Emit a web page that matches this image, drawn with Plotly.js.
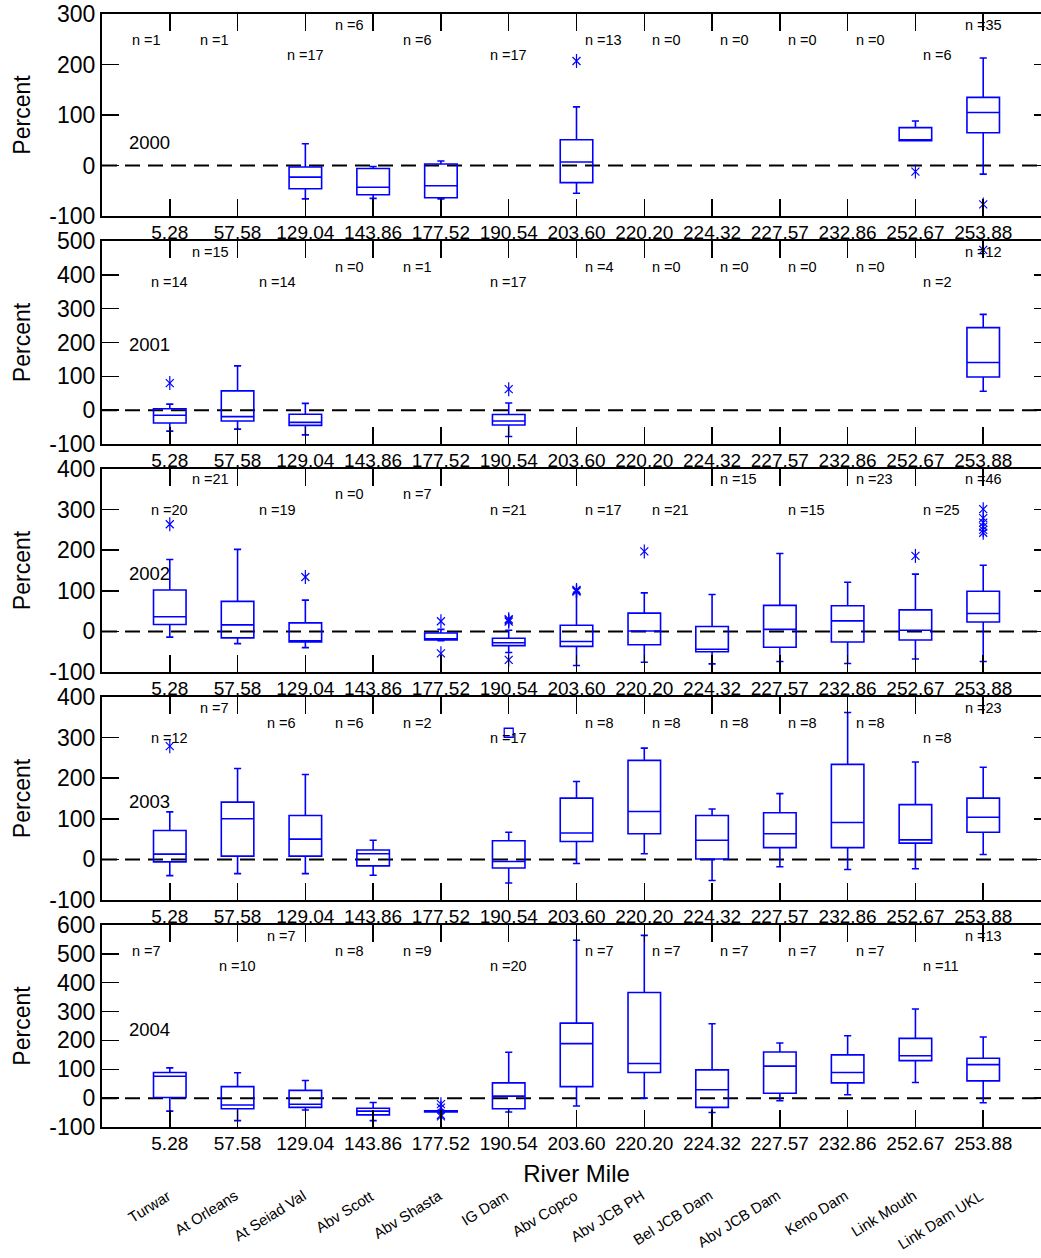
<!DOCTYPE html>
<html>
<head>
<meta charset="utf-8">
<script src="https://cdn.plot.ly/plotly-3.0.1.min.js"></script>
<style>
  html, body { margin: 0; padding: 0; overflow: hidden; background: #ffffff; }
  #chart { width: 1060px; height: 1258px; }
</style>
</head>
<body>
<div id="chart"></div>
<script>
// River-mile stations (category axis) and their site names
const riverMiles = ['5.28', '57.58', '129.04', '143.86', '177.52', '190.54', '203.60',
                    '220.20', '224.32', '227.57', '232.86', '252.67', '253.88'];
const siteNames = ['Turwar', 'At Orleans', 'At Seiad Val', 'Abv Scott', 'Abv Shasta', 'IG Dam',
                   'Abv Copco', 'Abv JCB PH', 'Bel JCB Dam', 'Abv JCB Dam', 'Keno Dam',
                   'Link Mouth', 'Link Dam UKL'];

// ---- 2000 ----
const n2000    = [1, 1, 17, 6, 6, 17, 13, 0, 0, 0, 0, 6, 35];
const box2000  = ['129.04', '143.86', '177.52', '203.60', '252.67', '253.88'];
const low2000  = [-66, -65, -66, -55, 49, -17];
const q1_2000  = [-46, -58, -64, -34, 49, 65];
const med2000  = [-23, -43, -40, 7, 50, 105];
const q3_2000  = [-3, -6, 3, 51, 75, 135];
const up2000   = [43, -2, 9, 116, 88, 213];
const outX2000 = ['203.60', '252.67', '253.88'];
const outY2000 = [207, -12, -77];

// ---- 2001 ----
const n2001    = [14, 15, 14, 0, 1, 17, 4, 0, 0, 0, 0, 2, 12];
const box2001  = ['5.28', '57.58', '129.04', '190.54', '253.88'];
const low2001  = [-62, -56, -73, -78, 56];
const q1_2001  = [-38, -32, -45, -44, 98];
const med2001  = [-15, -19, -36, -32, 141];
const q3_2001  = [4, 57, -12, -13, 244];
const up2001   = [18, 131, 20, 21, 283];
const outX2001 = ['5.28', '190.54', '253.88'];
const outY2001 = [80, 62, 474];

// ---- 2002 ----
const n2002    = [20, 21, 19, 0, 7, 21, 17, 21, 15, 15, 23, 25, 46];
const box2002  = ['5.28', '57.58', '129.04', '177.52', '190.54', '203.60', '220.20',
                  '224.32', '227.57', '232.86', '252.67', '253.88'];
const low2002  = [-14, -30, -40, -23, -52, -84, -76, -80, -74, -79, -68, -74];
const q1_2002  = [17, -16, -26, -21, -35, -37, -33, -50, -39, -26, -21, 23];
const med2002  = [36, 16, -23, -18, -28, -25, 1, -44, 5, 26, 3, 44];
const q3_2002  = [102, 74, 21, -4, -17, 15, 45, 12, 64, 63, 53, 99];
const up2002   = [177, 202, 77, 5, 3, 96, 95, 91, 192, 121, 141, 163];
const outX2002 = ['5.28', '129.04', '177.52', '177.52', '190.54', '190.54', '190.54', '190.54',
                  '203.60', '203.60', '203.60', '220.20', '252.67',
                  '253.88', '253.88', '253.88', '253.88', '253.88', '253.88'];
const outY2002 = [264, 134, 25, -54, 30, 27, 24, -70,
                  102, 100, 98, 197, 186,
                  301, 279, 268, 258, 250, 243];

// ---- 2003 ----
const n2003    = [12, 7, 6, 6, 2, 17, 8, 8, 8, 8, 8, 8, 23];
const box2003  = ['5.28', '57.58', '129.04', '143.86', '190.54', '203.60', '220.20',
                  '224.32', '227.57', '232.86', '252.67', '253.88'];
const low2003  = [-40, -35, -35, -39, -58, -10, 14, -52, -18, -25, -23, 12];
const q1_2003  = [-6, 8, 8, -16, -21, 44, 63, 1, 29, 29, 40, 67];
const med2003  = [13, 100, 50, 14, -5, 65, 118, 47, 63, 91, 48, 104];
const q3_2003  = [71, 141, 108, 23, 46, 151, 244, 108, 115, 234, 135, 151];
const up2003   = [117, 224, 209, 47, 67, 192, 274, 124, 162, 362, 240, 227];
const outX2003 = ['5.28'];
const outY2003 = [279];
const farX2003 = ['190.54'];
const farY2003 = [312];

// ---- 2004 ----
const n2004    = [7, 10, 7, 8, 9, 20, 7, 7, 7, 7, 7, 11, 13];
const box2004  = ['5.28', '57.58', '129.04', '143.86', '177.52', '190.54', '203.60',
                  '220.20', '224.32', '227.57', '232.86', '252.67', '253.88'];
const low2004  = [-45, -78, -41, -78, -50, -48, -27, 0, -50, -9, 12, 54, -16];
const q1_2004  = [2, -37, -32, -58, -48, -37, 40, 89, -32, 17, 53, 130, 60];
const med2004  = [76, -24, -21, -45, -46, 7, 189, 120, 29, 111, 89, 147, 116];
const q3_2004  = [89, 40, 27, -35, -44, 53, 260, 366, 98, 160, 150, 207, 138];
const up2004   = [105, 88, 61, -15, -42, 159, 547, 564, 258, 191, 216, 309, 212];
const outX2004 = ['177.52', '177.52', '177.52', '177.52'];
const outY2004 = [-21, -33, -58, -63];

// y-axis tick values per year
const yTicks2000 = [-100, 0, 100, 200, 300];
const yTicks2001 = [-100, 0, 100, 200, 300, 400, 500];
const yTicks2002 = [-100, 0, 100, 200, 300, 400];
const yTicks2003 = [-100, 0, 100, 200, 300, 400];
const yTicks2004 = [-100, 0, 100, 200, 300, 400, 500, 600];

const years = ['2000', '2001', '2002', '2003', '2004'];

// ---- panel assembly ----
const panels = [
  { year: years[0], n: n2000, x: box2000, low: low2000, q1: q1_2000, med: med2000, q3: q3_2000, up: up2000,
    outX: outX2000, outY: outY2000, farX: [], farY: [], ticks: yTicks2000 },
  { year: years[1], n: n2001, x: box2001, low: low2001, q1: q1_2001, med: med2001, q3: q3_2001, up: up2001,
    outX: outX2001, outY: outY2001, farX: [], farY: [], ticks: yTicks2001 },
  { year: years[2], n: n2002, x: box2002, low: low2002, q1: q1_2002, med: med2002, q3: q3_2002, up: up2002,
    outX: outX2002, outY: outY2002, farX: [], farY: [], ticks: yTicks2002 },
  { year: years[3], n: n2003, x: box2003, low: low2003, q1: q1_2003, med: med2003, q3: q3_2003, up: up2003,
    outX: outX2003, outY: outY2003, farX: farX2003, farY: farY2003, ticks: yTicks2003 },
  { year: years[4], n: n2004, x: box2004, low: low2004, q1: q1_2004, med: med2004, q3: q3_2004, up: up2004,
    outX: outX2004, outY: outY2004, farX: [], farY: [], ticks: yTicks2004 }
];

// ---- placement (pixels) ----
const FIG_W = 1060, FIG_H = 1258;
const M_L = 102.2, M_R = 8.6;
const PLOT_W = FIG_W - M_L - M_R;
const panelPx = [[14, 216], [241, 444], [469, 672], [697, 900], [925, 1127]];
const yearLabelPx = [143, 345, 573, 801, 1029];
// staggered rows for the "n =" labels (px below panel top) and their alignment
const nRowPx = [10.5, 25.5, 41];
const nRows = [
  [1, 1, 2, 0, 1, 2, 1, 1, 1, 1, 1, 2, 0],
  [2, 0, 2, 1, 1, 2, 1, 1, 1, 1, 1, 2, 0],
  [2, 0, 2, 1, 1, 2, 2, 2, 0, 2, 0, 2, 0],
  [2, 0, 1, 1, 1, 2, 1, 1, 1, 1, 1, 2, 0],
  [1, 2, 0, 1, 1, 2, 1, 1, 1, 1, 1, 2, 0]
];
const nAlign = ['RRCRRCLLLLLLC', 'CRRRRCLLLLLLC', 'CRRRRCLLLLLLC', 'CRRRRCLLLLLLC', 'RCRRRCLLLLLLC'];

const FONT = 'Liberation Sans, Arial, Helvetica, sans-serif';
const BLUE = '#0000ff';
const INK = '#000000';

const py = (px) => 1 - px / FIG_H;

const traces = [];
const layout = {
  width: FIG_W,
  height: FIG_H,
  margin: { l: M_L, r: M_R, t: 0, b: 0, autoexpand: false },
  paper_bgcolor: '#ffffff',
  plot_bgcolor: 'rgba(0,0,0,0)',
  showlegend: false,
  font: { family: FONT, color: INK },
  shapes: [],
  annotations: []
};

// outlier star: an "x" crossed by a vertical stroke
function starTraces(xs, ys, xa, ya) {
  return [
    { type: 'scatter', mode: 'markers', xaxis: xa, yaxis: ya, x: xs, y: ys, hoverinfo: 'skip',
      marker: { symbol: 'x-thin-open', size: 8, color: BLUE, line: { color: BLUE, width: 1.2 } } },
    { type: 'scatter', mode: 'markers', xaxis: xa, yaxis: ya, x: xs, y: ys, hoverinfo: 'skip',
      marker: { symbol: 'line-ns-open', size: 10, color: BLUE, line: { color: BLUE, width: 1.2 } } }
  ];
}

panels.forEach((p, k) => {
  const sfx = k === 0 ? '' : String(k + 1);
  const xa = 'x' + sfx, ya = 'y' + sfx;
  const [top, bot] = panelPx[k];
  const hPx = bot - top;

  traces.push({
    type: 'box',
    xaxis: xa, yaxis: ya,
    x: p.x,
    q1: p.q1, median: p.med, q3: p.q3,
    lowerfence: p.low, upperfence: p.up,
    boxpoints: false,
    width: 0.48,
    whiskerwidth: 0.22,
    line: { color: BLUE, width: 1.6 },
    fillcolor: 'rgba(0,0,0,0)',
    hoverinfo: 'skip'
  });

  if (p.outX.length) traces.push(...starTraces(p.outX, p.outY, xa, ya));
  if (p.farX.length) {
    traces.push({
      type: 'scatter', mode: 'markers',
      xaxis: xa, yaxis: ya,
      x: p.farX, y: p.farY,
      marker: { symbol: 'square-open', size: 9, color: BLUE, line: { color: BLUE, width: 1.3 } },
      hoverinfo: 'skip'
    });
  }

  const yr = p.ticks;
  layout['xaxis' + sfx] = {
    type: 'category',
    categoryorder: 'array',
    categoryarray: riverMiles,
    range: [-1, riverMiles.length],
    domain: [0, 1],
    anchor: ya,
    tickmode: 'array',
    tickvals: riverMiles,
    ticktext: riverMiles,
    showline: true, mirror: 'ticks',
    linecolor: INK, linewidth: 2,
    ticks: 'inside', ticklen: 17, tickwidth: 1.5, tickcolor: INK,
    tickfont: { size: 19, color: INK, family: FONT },
    ticklabelstandoff: -2,
    showgrid: false, zeroline: false,
    automargin: false,
    fixedrange: true
  };
  layout['yaxis' + sfx] = {
    domain: [py(bot), py(top)],
    anchor: xa,
    range: [yr[0], yr[yr.length - 1]],
    tickmode: 'array',
    tickvals: yr,
    ticktext: yr.map(String),
    showline: true, mirror: 'ticks',
    linecolor: INK, linewidth: 2,
    ticks: 'inside', ticklen: 17, tickwidth: 1.5, tickcolor: INK,
    tickfont: { size: 23, color: INK, family: FONT },
    showgrid: false, zeroline: false,
    automargin: false,
    fixedrange: true,
    title: { text: 'Percent', font: { size: 23, color: INK, family: FONT }, standoff: 12 }
  };

  // dashed reference line at 0 %
  layout.shapes.push({
    type: 'line', xref: 'paper', x0: 0, x1: 1,
    yref: ya, y0: 0, y1: 0,
    line: { color: INK, width: 2, dash: '15px,8px' },
    layer: 'below'
  });

  // year label
  layout.annotations.push({
    xref: 'paper', yref: 'paper',
    x: (127.7 - M_L) / PLOT_W, y: py(yearLabelPx[k]),
    xanchor: 'left', yanchor: 'middle',
    text: p.year, showarrow: false,
    font: { size: 18.5, color: INK, family: FONT }
  });

  // sample-size labels
  p.n.forEach((cnt, i) => {
    const a = nAlign[k][i];
    layout.annotations.push({
      xref: xa, yref: ya + ' domain',
      x: i, y: 1 - nRowPx[nRows[k][i]] / hPx,
      xanchor: a === 'R' ? 'right' : (a === 'L' ? 'left' : 'center'),
      xshift: a === 'R' ? -7 : (a === 'L' ? 6 : 0),
      yanchor: 'middle',
      text: 'n =' + cnt, showarrow: false,
      font: { size: 14.5, color: INK, family: FONT }
    });
  });
});

// x-axis title under the last panel
layout.xaxis5.title = { text: 'River Mile', font: { size: 24, color: INK, family: FONT }, standoff: 12 };

// station names, slanted, under the bottom axis
siteNames.forEach((name, i) => {
  layout.annotations.push({
    xref: 'x5', yref: 'paper',
    x: i, xshift: 6,
    y: py(1184),
    xanchor: 'right', yanchor: 'top',
    textangle: -32,
    text: name, showarrow: false,
    font: { size: 15, color: INK, family: FONT }
  });
});

Plotly.newPlot('chart', traces, layout, { staticPlot: true, displayModeBar: false });
</script>
</body>
</html>
